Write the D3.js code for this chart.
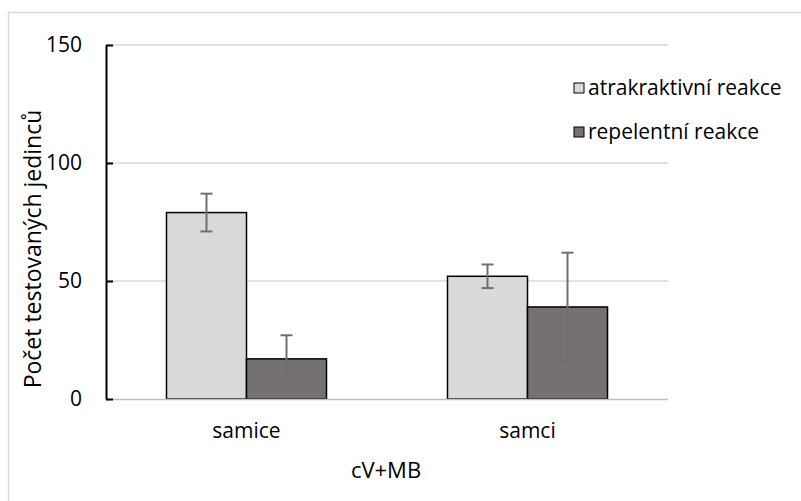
<!DOCTYPE html>
<html>
<head>
<meta charset="utf-8">
<script src="https://cdn.jsdelivr.net/npm/d3@7"></script>
<style>
  body { margin: 0; background: #fff; }
</style>
</head>
<body>
<div id="wrapper"></div>
<script>
const categories = ["samice", "samci"];
const seriesNames = ["atrakraktivní reakce", "repelentní reakce"];
const attractValues = [79, 52];
const attractErrors = [8, 5];
const repelValues = [17, 39];
const repelErrors = [10, 23];
const yTicks = [0, 50, 100, 150];

const SERIES_COLORS = ["#d9d9d9", "#767171"];
const FONT_FAMILY = "'Open Sans', sans-serif";
const TEXT_COLOR = "#000";
const GRID_COLOR = "#d9d9d9";
const ERROR_COLOR = "#6f6f6f";

function drawBars() {
    const series = [
        { name: seriesNames[0], values: attractValues, errors: attractErrors },
        { name: seriesNames[1], values: repelValues, errors: repelErrors },
    ];

    const dimensions = {
        width: 801,
        height: 501,
        margin: { top: 45, right: 133, bottom: 102, left: 106 },
    };
    dimensions.boundedWidth = dimensions.width - dimensions.margin.left - dimensions.margin.right;
    dimensions.boundedHeight = dimensions.height - dimensions.margin.top - dimensions.margin.bottom;

    const wrapper = d3.select("#wrapper")
        .append("svg")
        .attr("width", dimensions.width)
        .attr("height", dimensions.height);

    // chart border
    wrapper.append("rect")
        .attr("x", 8.5)
        .attr("y", 12.5)
        .attr("width", 800)
        .attr("height", 500)
        .attr("fill", "none")
        .attr("stroke", "#d9d9d9")
        .attr("stroke-width", 1.5);

    const bounds = wrapper.append("g")
        .attr("transform", `translate(${dimensions.margin.left},${dimensions.margin.top})`);

    const xScale = d3.scaleBand()
        .domain(categories)
        .range([0, dimensions.boundedWidth]);

    const seriesScale = d3.scaleBand()
        .domain(seriesNames)
        .range([0, xScale.bandwidth()])
        .paddingInner(0)
        .paddingOuter(0.756);

    const yScale = d3.scaleLinear()
        .domain([0, 150])
        .range([dimensions.boundedHeight, 0]);

    // gridlines
    bounds.append("g")
        .selectAll("line")
        .data(yTicks.filter(d => d > 0))
        .join("line")
        .attr("x1", 0)
        .attr("x2", dimensions.boundedWidth)
        .attr("y1", d => yScale(d))
        .attr("y2", d => yScale(d))
        .attr("stroke", GRID_COLOR)
        .attr("stroke-width", 1.5);

    // bars
    const groups = bounds.append("g")
        .selectAll("g")
        .data(categories)
        .join("g")
        .attr("transform", d => `translate(${xScale(d)},0)`);

    const cells = groups.selectAll("g")
        .data((c, i) => series.map(s => ({ name: s.name, value: s.values[i], error: s.errors[i] })))
        .join("g");

    cells.append("rect")
        .attr("x", d => seriesScale(d.name))
        .attr("y", d => yScale(d.value))
        .attr("width", seriesScale.bandwidth())
        .attr("height", d => dimensions.boundedHeight - yScale(d.value))
        .attr("fill", (d, i) => SERIES_COLORS[i])
        .attr("stroke", "#000")
        .attr("stroke-width", 1.5);

    // error bars
    const capHalf = 6;
    const errCenter = d => seriesScale(d.name) + seriesScale.bandwidth() / 2;
    cells.append("line")
        .attr("x1", errCenter)
        .attr("x2", errCenter)
        .attr("y1", d => yScale(d.value + d.error))
        .attr("y2", d => yScale(d.value - d.error))
        .attr("stroke", ERROR_COLOR)
        .attr("stroke-width", 2);
    cells.selectAll(".cap")
        .data(d => [d.value + d.error, d.value - d.error].map(v => ({ v, c: errCenter(d) })))
        .join("line")
        .attr("class", "cap")
        .attr("x1", d => d.c - capHalf)
        .attr("x2", d => d.c + capHalf)
        .attr("y1", d => yScale(d.v))
        .attr("y2", d => yScale(d.v))
        .attr("stroke", ERROR_COLOR)
        .attr("stroke-width", 2);

    // x axis line
    bounds.append("line")
        .attr("x1", 0)
        .attr("x2", dimensions.boundedWidth)
        .attr("y1", dimensions.boundedHeight + 0.5)
        .attr("y2", dimensions.boundedHeight + 0.5)
        .attr("stroke", "#bfbfbf")
        .attr("stroke-width", 1.5);

    // y axis
    const yAxisGenerator = d3.axisLeft(yScale)
        .tickValues(yTicks)
        .tickSizeInner(-7)
        .tickSizeOuter(0)
        .tickPadding(24);
    const yAxis = bounds.append("g").call(yAxisGenerator);
    yAxis.select(".domain").attr("stroke", "#000").attr("stroke-width", 2);
    yAxis.selectAll(".tick line").attr("stroke", "#000").attr("stroke-width", 2);
    yAxis.selectAll(".tick text")
        .style("font-family", FONT_FAMILY)
        .style("font-size", "21px")
        .attr("fill", TEXT_COLOR);

    // x category labels
    bounds.append("g")
        .selectAll("text")
        .data(categories)
        .join("text")
        .attr("x", d => xScale(d) + xScale.bandwidth() / 2)
        .attr("y", dimensions.boundedHeight + 39)
        .attr("text-anchor", "middle")
        .style("font-family", FONT_FAMILY)
        .style("font-size", "21px")
        .attr("fill", TEXT_COLOR)
        .text(d => d);

    // axis titles
    wrapper.append("text")
        .attr("x", 386)
        .attr("y", 478)
        .attr("text-anchor", "middle")
        .style("font-family", FONT_FAMILY)
        .style("font-size", "22px")
        .attr("fill", TEXT_COLOR)
        .text("cV+MB");

    wrapper.append("text")
        .attr("transform", "translate(41,249) rotate(-90)")
        .attr("text-anchor", "middle")
        .style("font-family", FONT_FAMILY)
        .style("font-size", "23px")
        .attr("fill", TEXT_COLOR)
        .text("Počet testovaných jedinců");

    // legend
    const legend = wrapper.append("g")
        .attr("transform", "translate(574,83)");
    const legendItems = legend.selectAll("g")
        .data(seriesNames)
        .join("g")
        .attr("transform", (d, i) => `translate(0,${i * 44})`);
    legendItems.append("rect")
        .attr("width", 10)
        .attr("height", 10)
        .attr("fill", (d, i) => SERIES_COLORS[i])
        .attr("stroke", "#000")
        .attr("stroke-width", 1);
    legendItems.append("text")
        .attr("x", 14)
        .attr("y", 12)
        .style("font-family", FONT_FAMILY)
        .style("font-size", "21px")
        .attr("fill", TEXT_COLOR)
        .text(d => d);
}

drawBars();
</script>
</body>
</html>
